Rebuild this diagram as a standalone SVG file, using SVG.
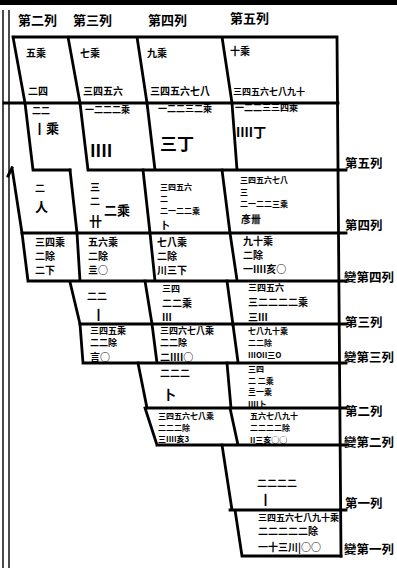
<svg xmlns="http://www.w3.org/2000/svg" width="397" height="568" viewBox="0 0 397 568">
<style>
text{font-family:"Noto Sans CJK TC","Noto Sans CJK SC",sans-serif;font-weight:bold;fill:#000}
.h{font-size:13px}
.t{font-size:10px}
.s{font-size:9px}
.x{font-size:8px}
.b{font-size:17px}
.m{font-size:13px}
.lab{font-size:12.5px}
.ln{fill:none;stroke:#000;stroke-width:2.8;stroke-linecap:square}
.th{fill:none;stroke:#000;stroke-width:1.4}
</style>
<rect width="397" height="568" fill="#fff"/>
<g id="frame">
<rect x="0" y="0" width="397" height="5" fill="#000"/>
<path class="th" d="M3,10V568M9,10V568"/>
</g>
<g id="grid">
<path class="ln" d="M13,37H337M13,37L25,103M68,37L80,103M137,37L147,103M222,37L232,103M337,37L341,556"/>
<path class="ln" d="M4,103H338"/>
<path class="ln" d="M25,103L33,170H70M80,103L88,170H346M147,103L155,170M232,103L237,170"/>
<path class="ln" d="M12,168L22,233M12,168L8,176M70,170L77,233M143,170L150,233M222,170L230,233M22,233H346"/>
<path class="ln" d="M22,233L28,281M77,233L80,281M150,233L155,281M230,233L237,280M28,281H346"/>
<path class="ln" d="M70,282L80,324M145,281L152,324M227,281L233,325M80,324H346"/>
<path class="ln" d="M80,324L83,363M152,324L157,363M233,325L238,362M83,363H346"/>
<path class="ln" d="M138,363L147,408M227,363L231,408M147,408H346"/>
<path class="ln" d="M145,408L157,445M230,408L238,445M157,445H346"/>
<path class="ln" d="M222,445L232,510M230,510H346M235,510L242,556H341"/>
</g>
<g id="header">
<text class="h" x="18" y="25">第二列</text>
<text class="h" x="73" y="25">第三列</text>
<text class="h" x="148" y="25">第四列</text>
<text class="h" x="230" y="23">第五列</text>
</g>
<g id="top-col2"><text class="t" x="26" y="57">五乘</text><text class="t" x="28" y="95">二四</text></g>
<g id="top-col3"><text class="t" x="80" y="57">七乘</text><text class="t" x="83" y="95">三四五六</text></g>
<g id="top-col4"><text class="t" x="147" y="57">九乘</text><text class="t" x="150" y="95">三四五六七八</text></g>
<g id="top-col5"><text class="t" x="230" y="55">十乘</text><text class="s" x="233" y="95">三四五六七八九十</text></g>
<g id="b2"><text class="s" x="32" y="114">二二</text><text class="m" x="33" y="133">丨乘</text></g>
<g id="b3"><text class="s" x="85" y="113">一二二二乘</text><text class="b" x="90" y="157">IIII</text></g>
<g id="b4"><text class="s" x="158" y="112">一二二三二乘</text><text class="b" x="160" y="150">三丁</text></g>
<g id="b5"><text class="s" x="235" y="111">一二二三三四乘</text><text class="m" x="236" y="137">IIII丁</text></g>
<g id="c2"><text class="t" x="35" y="192">二</text><text class="m" x="35" y="212">人</text></g>
<g id="c3"><text class="t" x="90" y="191">三</text><text class="t" x="90" y="205">二</text><text class="m" x="89" y="226">卄</text><text class="m" x="104" y="215">二乘</text></g>
<g id="c4"><text class="x" x="160" y="190">三四五六</text><text class="x" x="160" y="202">二</text><text class="x" x="160" y="214">二一二二乘</text><text class="t" x="160" y="229">卜</text></g>
<g id="c5"><text class="x" x="240" y="183">三四五六七八</text><text class="x" x="240" y="195">三</text><text class="x" x="240" y="207">二一二二三乘</text><text class="t" x="241" y="223">彥卌</text></g>
<g id="d2"><text class="t" x="35" y="246">三四乘</text><text class="t" x="35" y="260">二除</text><text class="t" x="35" y="274">二下</text></g>
<g id="d3"><text class="t" x="88" y="246">五六乘</text><text class="t" x="88" y="260">二除</text><text class="t" x="88" y="274">亖○</text></g>
<g id="d4"><text class="t" x="157" y="246">七八乘</text><text class="t" x="157" y="260">二除</text><text class="t" x="157" y="274">川三下</text></g>
<g id="d5"><text class="t" x="243" y="245">九十乘</text><text class="t" x="243" y="259">二除</text><text class="t" x="243" y="273">一IIII亥○</text></g>
<g id="e3"><text class="t" x="87" y="300">二二</text><text class="m" x="92" y="319">丨</text></g>
<g id="e4"><text class="s" x="162" y="292">三四</text><text class="t" x="162" y="307">二二乘</text><text class="t" x="162" y="321">III</text></g>
<g id="e5"><text class="s" x="248" y="291">三四五六</text><text class="t" x="248" y="306">三二二二二乘</text><text class="t" x="248" y="321">三III</text></g>
<g id="f3"><text class="s" x="90" y="334">三四五乘</text><text class="s" x="90" y="346">二二除</text><text class="t" x="90" y="361">言○</text></g>
<g id="f4"><text class="s" x="160" y="334">三四六七八乘</text><text class="s" x="160" y="346">二二除</text><text class="t" x="160" y="361">二IIII○</text></g>
<g id="f5"><text class="x" x="248" y="334">七八九十乘</text><text class="x" x="248" y="346">二二除</text><text class="x" x="248" y="358">IIIOII三O</text></g>
<g id="g4"><text class="t" x="160" y="377">二二二</text><text class="m" x="163" y="399">卜</text></g>
<g id="g5"><text class="x" x="248" y="372">三四</text><text class="x" x="248" y="383.5">二 二乘</text><text class="x" x="248" y="395">亖一乘</text><text class="x" x="248" y="406.5">IIII卜</text></g>
<g id="h4"><text class="x" x="158" y="419">三四五六七八乘</text><text class="x" x="158" y="430.5">二二二除</text><text class="x" x="158" y="442">三IIII亥3</text></g>
<g id="h5"><text class="x" x="250" y="419">五六七八九十</text><text class="x" x="250" y="431">二二二二除</text><text class="x" x="250" y="443">II三亥○○</text></g>
<g id="i5"><text class="t" x="257" y="487">二二二二</text><text class="m" x="259" y="504">丨</text></g>
<g id="j5"><text class="s" x="258" y="521">三四五六七八九十乘</text><text class="t" x="258" y="535">二二二二二除</text><text class="t" x="258" y="551">一十三川|○○</text></g>
<g id="labels">
<text class="lab" x="345" y="168">第五列</text>
<text class="lab" x="345" y="230">第四列</text>
<text class="lab" x="344" y="282">變第四列</text>
<text class="lab" x="345" y="327">第三列</text>
<text class="lab" x="344" y="362">變第三列</text>
<text class="lab" x="345" y="416">第二列</text>
<text class="lab" x="344" y="447">變第二列</text>
<text class="lab" x="345" y="508">第一列</text>
<text class="lab" x="344" y="554">變第一列</text>
</g>
</svg>
